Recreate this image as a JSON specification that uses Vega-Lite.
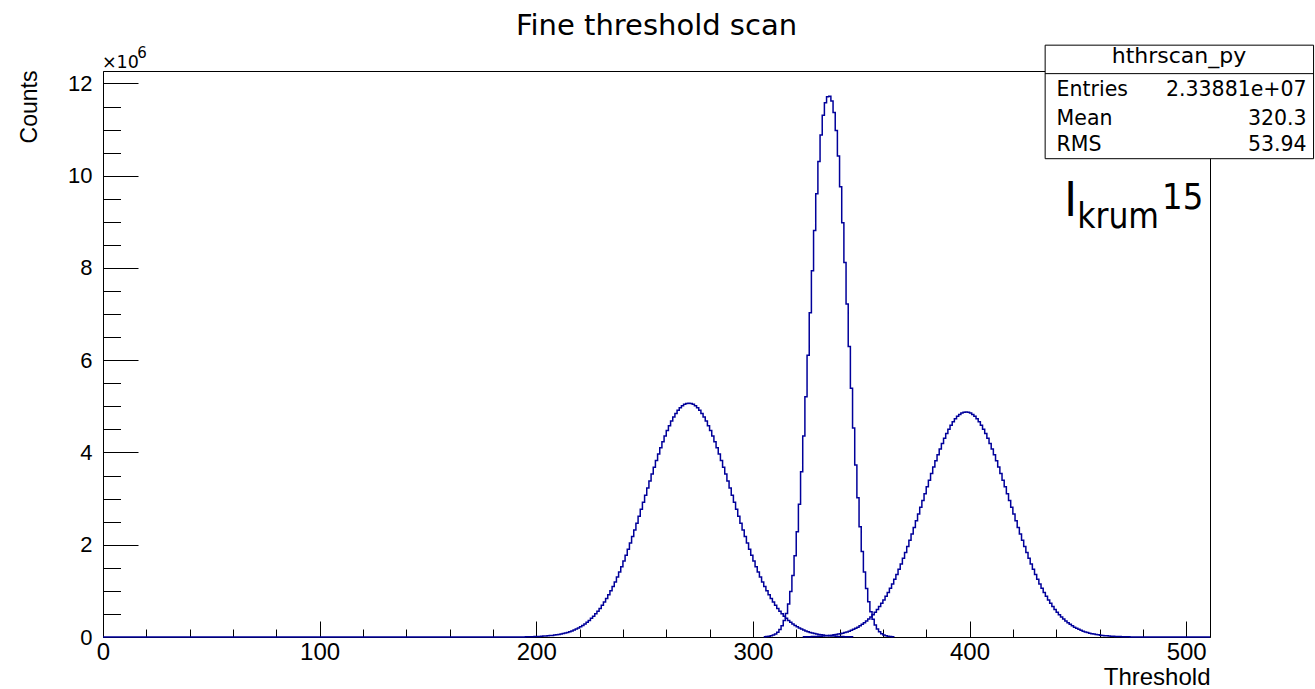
{
"$schema": "https://vega.github.io/schema/vega-lite/v6.json",
"width": 1107, "height": 566,
"autosize": "none",
"padding": {"left": 103, "top": 71, "right": 105, "bottom": 52},
"background": "#ffffff",
"config": {"view": {"stroke": "#000000", "strokeWidth": 1}},
"title": {"text": "Fine threshold scan", "font": "DejaVu Sans", "fontSize": 29, "fontWeight": "normal", "color": "#000000", "anchor": "middle", "baseline": "alphabetic", "offset": -19, "frame": "group"},
"datasets": {
"hist": [
{"s":"A","t":0,"c":0},
{"s":"A","t":195,"c":0.004e6},{"s":"A","t":196,"c":0.005e6},{"s":"A","t":197,"c":0.006e6},{"s":"A","t":198,"c":0.008e6},{"s":"A","t":199,"c":0.009e6},
{"s":"A","t":200,"c":0.011e6},{"s":"A","t":201,"c":0.013e6},{"s":"A","t":202,"c":0.016e6},{"s":"A","t":203,"c":0.019e6},{"s":"A","t":204,"c":0.022e6},
{"s":"A","t":205,"c":0.026e6},{"s":"A","t":206,"c":0.030e6},{"s":"A","t":207,"c":0.035e6},{"s":"A","t":208,"c":0.042e6},{"s":"A","t":209,"c":0.048e6},
{"s":"A","t":210,"c":0.056e6},{"s":"A","t":211,"c":0.065e6},{"s":"A","t":212,"c":0.076e6},{"s":"A","t":213,"c":0.087e6},{"s":"A","t":214,"c":0.100e6},
{"s":"A","t":215,"c":0.116e6},{"s":"A","t":216,"c":0.132e6},{"s":"A","t":217,"c":0.152e6},{"s":"A","t":218,"c":0.172e6},{"s":"A","t":219,"c":0.196e6},
{"s":"A","t":220,"c":0.223e6},{"s":"A","t":221,"c":0.252e6},{"s":"A","t":222,"c":0.284e6},{"s":"A","t":223,"c":0.320e6},{"s":"A","t":224,"c":0.360e6},
{"s":"A","t":225,"c":0.404e6},{"s":"A","t":226,"c":0.451e6},{"s":"A","t":227,"c":0.502e6},{"s":"A","t":228,"c":0.559e6},{"s":"A","t":229,"c":0.620e6},
{"s":"A","t":230,"c":0.686e6},{"s":"A","t":231,"c":0.757e6},{"s":"A","t":232,"c":0.834e6},{"s":"A","t":233,"c":0.916e6},{"s":"A","t":234,"c":1.003e6},
{"s":"A","t":235,"c":1.097e6},{"s":"A","t":236,"c":1.195e6},{"s":"A","t":237,"c":1.299e6},{"s":"A","t":238,"c":1.409e6},{"s":"A","t":239,"c":1.525e6},
{"s":"A","t":240,"c":1.646e6},{"s":"A","t":241,"c":1.772e6},{"s":"A","t":242,"c":1.903e6},{"s":"A","t":243,"c":2.038e6},{"s":"A","t":244,"c":2.178e6},
{"s":"A","t":245,"c":2.321e6},{"s":"A","t":246,"c":2.468e6},{"s":"A","t":247,"c":2.617e6},{"s":"A","t":248,"c":2.769e6},{"s":"A","t":249,"c":2.922e6},
{"s":"A","t":250,"c":3.075e6},{"s":"A","t":251,"c":3.229e6},{"s":"A","t":252,"c":3.382e6},{"s":"A","t":253,"c":3.533e6},{"s":"A","t":254,"c":3.681e6},
{"s":"A","t":255,"c":3.827e6},{"s":"A","t":256,"c":3.968e6},{"s":"A","t":257,"c":4.105e6},{"s":"A","t":258,"c":4.235e6},{"s":"A","t":259,"c":4.358e6},
{"s":"A","t":260,"c":4.474e6},{"s":"A","t":261,"c":4.582e6},{"s":"A","t":262,"c":4.680e6},{"s":"A","t":263,"c":4.769e6},{"s":"A","t":264,"c":4.847e6},
{"s":"A","t":265,"c":4.914e6},{"s":"A","t":266,"c":4.970e6},{"s":"A","t":267,"c":5.013e6},{"s":"A","t":268,"c":5.045e6},{"s":"A","t":269,"c":5.064e6},
{"s":"A","t":270,"c":5.070e6},
{"s":"A","t":271,"c":5.064e6},{"s":"A","t":272,"c":5.045e6},{"s":"A","t":273,"c":5.013e6},{"s":"A","t":274,"c":4.970e6},{"s":"A","t":275,"c":4.914e6},
{"s":"A","t":276,"c":4.847e6},{"s":"A","t":277,"c":4.769e6},{"s":"A","t":278,"c":4.680e6},{"s":"A","t":279,"c":4.582e6},{"s":"A","t":280,"c":4.474e6},
{"s":"A","t":281,"c":4.358e6},{"s":"A","t":282,"c":4.235e6},{"s":"A","t":283,"c":4.105e6},{"s":"A","t":284,"c":3.968e6},{"s":"A","t":285,"c":3.827e6},
{"s":"A","t":286,"c":3.681e6},{"s":"A","t":287,"c":3.533e6},{"s":"A","t":288,"c":3.382e6},{"s":"A","t":289,"c":3.229e6},{"s":"A","t":290,"c":3.075e6},
{"s":"A","t":291,"c":2.922e6},{"s":"A","t":292,"c":2.769e6},{"s":"A","t":293,"c":2.617e6},{"s":"A","t":294,"c":2.468e6},{"s":"A","t":295,"c":2.321e6},
{"s":"A","t":296,"c":2.178e6},{"s":"A","t":297,"c":2.038e6},{"s":"A","t":298,"c":1.903e6},{"s":"A","t":299,"c":1.772e6},{"s":"A","t":300,"c":1.646e6},
{"s":"A","t":301,"c":1.525e6},{"s":"A","t":302,"c":1.409e6},{"s":"A","t":303,"c":1.299e6},{"s":"A","t":304,"c":1.195e6},{"s":"A","t":305,"c":1.097e6},
{"s":"A","t":306,"c":1.003e6},{"s":"A","t":307,"c":0.916e6},{"s":"A","t":308,"c":0.834e6},{"s":"A","t":309,"c":0.757e6},{"s":"A","t":310,"c":0.686e6},
{"s":"A","t":311,"c":0.620e6},{"s":"A","t":312,"c":0.559e6},{"s":"A","t":313,"c":0.502e6},{"s":"A","t":314,"c":0.451e6},{"s":"A","t":315,"c":0.404e6},
{"s":"A","t":316,"c":0.360e6},{"s":"A","t":317,"c":0.320e6},{"s":"A","t":318,"c":0.284e6},{"s":"A","t":319,"c":0.252e6},{"s":"A","t":320,"c":0.223e6},
{"s":"A","t":321,"c":0.196e6},{"s":"A","t":322,"c":0.172e6},{"s":"A","t":323,"c":0.152e6},{"s":"A","t":324,"c":0.132e6},{"s":"A","t":325,"c":0.116e6},
{"s":"A","t":326,"c":0.100e6},{"s":"A","t":327,"c":0.087e6},{"s":"A","t":328,"c":0.076e6},{"s":"A","t":329,"c":0.065e6},{"s":"A","t":330,"c":0.056e6},
{"s":"A","t":331,"c":0.048e6},{"s":"A","t":332,"c":0.042e6},{"s":"A","t":333,"c":0.035e6},{"s":"A","t":334,"c":0.030e6},{"s":"A","t":335,"c":0.026e6},
{"s":"A","t":336,"c":0.022e6},{"s":"A","t":337,"c":0.019e6},{"s":"A","t":338,"c":0.016e6},{"s":"A","t":339,"c":0.013e6},{"s":"A","t":340,"c":0.011e6},
{"s":"A","t":341,"c":0.009e6},{"s":"A","t":342,"c":0.008e6},{"s":"A","t":343,"c":0.006e6},{"s":"A","t":344,"c":0.005e6},{"s":"A","t":345,"c":0.004e6},
{"s":"A","t":346,"c":0},
{"s":"B","t":305,"c":0.005e6},{"s":"B","t":306,"c":0.009e6},{"s":"B","t":307,"c":0.015e6},{"s":"B","t":308,"c":0.025e6},{"s":"B","t":309,"c":0.042e6},
{"s":"B","t":310,"c":0.067e6},{"s":"B","t":311,"c":0.105e6},{"s":"B","t":312,"c":0.161e6},{"s":"B","t":313,"c":0.242e6},{"s":"B","t":314,"c":0.356e6},
{"s":"B","t":315,"c":0.510e6},{"s":"B","t":316,"c":0.718e6},{"s":"B","t":317,"c":0.989e6},{"s":"B","t":318,"c":1.333e6},{"s":"B","t":319,"c":1.76e6},
{"s":"B","t":320,"c":2.28e6},{"s":"B","t":321,"c":2.88e6},{"s":"B","t":322,"c":3.58e6},{"s":"B","t":323,"c":4.36e6},{"s":"B","t":324,"c":5.21e6},
{"s":"B","t":325,"c":6.11e6},{"s":"B","t":326,"c":7.03e6},{"s":"B","t":327,"c":7.94e6},{"s":"B","t":328,"c":8.81e6},{"s":"B","t":329,"c":9.61e6},
{"s":"B","t":330,"c":10.31e6},{"s":"B","t":331,"c":10.88e6},{"s":"B","t":332,"c":11.31e6},{"s":"B","t":333,"c":11.58e6},{"s":"B","t":334,"c":11.71e6},
{"s":"B","t":335,"c":11.72e6},{"s":"B","t":336,"c":11.62e6},{"s":"B","t":337,"c":11.37e6},{"s":"B","t":338,"c":10.98e6},{"s":"B","t":339,"c":10.43e6},
{"s":"B","t":340,"c":9.76e6},{"s":"B","t":341,"c":8.98e6},{"s":"B","t":342,"c":8.12e6},{"s":"B","t":343,"c":7.22e6},{"s":"B","t":344,"c":6.30e6},
{"s":"B","t":345,"c":5.39e6},{"s":"B","t":346,"c":4.53e6},{"s":"B","t":347,"c":3.73e6},{"s":"B","t":348,"c":3.02e6},{"s":"B","t":349,"c":2.39e6},
{"s":"B","t":350,"c":1.856e6},{"s":"B","t":351,"c":1.411e6},{"s":"B","t":352,"c":1.051e6},{"s":"B","t":353,"c":0.766e6},{"s":"B","t":354,"c":0.547e6},
{"s":"B","t":355,"c":0.383e6},{"s":"B","t":356,"c":0.262e6},{"s":"B","t":357,"c":0.175e6},{"s":"B","t":358,"c":0.115e6},{"s":"B","t":359,"c":0.073e6},
{"s":"B","t":360,"c":0.046e6},{"s":"B","t":361,"c":0.028e6},{"s":"B","t":362,"c":0.017e6},{"s":"B","t":363,"c":0.010e6},{"s":"B","t":364,"c":0.005e6},
{"s":"B","t":365,"c":0},
{"s":"C","t":323,"c":0.004e6},{"s":"C","t":324,"c":0.005e6},{"s":"C","t":325,"c":0.006e6},{"s":"C","t":326,"c":0.008e6},{"s":"C","t":327,"c":0.009e6},
{"s":"C","t":328,"c":0.011e6},{"s":"C","t":329,"c":0.013e6},{"s":"C","t":330,"c":0.015e6},{"s":"C","t":331,"c":0.018e6},{"s":"C","t":332,"c":0.021e6},
{"s":"C","t":333,"c":0.025e6},{"s":"C","t":334,"c":0.029e6},{"s":"C","t":335,"c":0.034e6},{"s":"C","t":336,"c":0.040e6},{"s":"C","t":337,"c":0.047e6},
{"s":"C","t":338,"c":0.054e6},{"s":"C","t":339,"c":0.063e6},{"s":"C","t":340,"c":0.073e6},{"s":"C","t":341,"c":0.084e6},{"s":"C","t":342,"c":0.097e6},
{"s":"C","t":343,"c":0.111e6},{"s":"C","t":344,"c":0.127e6},{"s":"C","t":345,"c":0.146e6},{"s":"C","t":346,"c":0.166e6},{"s":"C","t":347,"c":0.189e6},
{"s":"C","t":348,"c":0.214e6},{"s":"C","t":349,"c":0.243e6},{"s":"C","t":350,"c":0.274e6},{"s":"C","t":351,"c":0.308e6},{"s":"C","t":352,"c":0.346e6},
{"s":"C","t":353,"c":0.388e6},{"s":"C","t":354,"c":0.434e6},{"s":"C","t":355,"c":0.484e6},{"s":"C","t":356,"c":0.538e6},{"s":"C","t":357,"c":0.597e6},
{"s":"C","t":358,"c":0.660e6},{"s":"C","t":359,"c":0.729e6},{"s":"C","t":360,"c":0.803e6},{"s":"C","t":361,"c":0.881e6},{"s":"C","t":362,"c":0.966e6},
{"s":"C","t":363,"c":1.056e6},{"s":"C","t":364,"c":1.150e6},{"s":"C","t":365,"c":1.251e6},{"s":"C","t":366,"c":1.357e6},{"s":"C","t":367,"c":1.468e6},
{"s":"C","t":368,"c":1.585e6},{"s":"C","t":369,"c":1.706e6},{"s":"C","t":370,"c":1.831e6},{"s":"C","t":371,"c":1.962e6},{"s":"C","t":372,"c":2.096e6},
{"s":"C","t":373,"c":2.234e6},{"s":"C","t":374,"c":2.376e6},{"s":"C","t":375,"c":2.519e6},{"s":"C","t":376,"c":2.665e6},{"s":"C","t":377,"c":2.812e6},
{"s":"C","t":378,"c":2.960e6},{"s":"C","t":379,"c":3.108e6},{"s":"C","t":380,"c":3.255e6},{"s":"C","t":381,"c":3.400e6},{"s":"C","t":382,"c":3.543e6},
{"s":"C","t":383,"c":3.683e6},{"s":"C","t":384,"c":3.820e6},{"s":"C","t":385,"c":3.951e6},{"s":"C","t":386,"c":4.076e6},{"s":"C","t":387,"c":4.195e6},
{"s":"C","t":388,"c":4.307e6},{"s":"C","t":389,"c":4.410e6},{"s":"C","t":390,"c":4.505e6},{"s":"C","t":391,"c":4.590e6},{"s":"C","t":392,"c":4.665e6},
{"s":"C","t":393,"c":4.730e6},{"s":"C","t":394,"c":4.783e6},{"s":"C","t":395,"c":4.825e6},{"s":"C","t":396,"c":4.856e6},{"s":"C","t":397,"c":4.874e6},
{"s":"C","t":398,"c":4.880e6},
{"s":"C","t":399,"c":4.874e6},{"s":"C","t":400,"c":4.856e6},{"s":"C","t":401,"c":4.825e6},{"s":"C","t":402,"c":4.783e6},{"s":"C","t":403,"c":4.730e6},
{"s":"C","t":404,"c":4.665e6},{"s":"C","t":405,"c":4.590e6},{"s":"C","t":406,"c":4.505e6},{"s":"C","t":407,"c":4.410e6},{"s":"C","t":408,"c":4.307e6},
{"s":"C","t":409,"c":4.195e6},{"s":"C","t":410,"c":4.076e6},{"s":"C","t":411,"c":3.951e6},{"s":"C","t":412,"c":3.820e6},{"s":"C","t":413,"c":3.683e6},
{"s":"C","t":414,"c":3.543e6},{"s":"C","t":415,"c":3.400e6},{"s":"C","t":416,"c":3.255e6},{"s":"C","t":417,"c":3.108e6},{"s":"C","t":418,"c":2.960e6},
{"s":"C","t":419,"c":2.812e6},{"s":"C","t":420,"c":2.665e6},{"s":"C","t":421,"c":2.519e6},{"s":"C","t":422,"c":2.376e6},{"s":"C","t":423,"c":2.234e6},
{"s":"C","t":424,"c":2.096e6},{"s":"C","t":425,"c":1.962e6},{"s":"C","t":426,"c":1.831e6},{"s":"C","t":427,"c":1.706e6},{"s":"C","t":428,"c":1.585e6},
{"s":"C","t":429,"c":1.468e6},{"s":"C","t":430,"c":1.357e6},{"s":"C","t":431,"c":1.251e6},{"s":"C","t":432,"c":1.150e6},{"s":"C","t":433,"c":1.056e6},
{"s":"C","t":434,"c":0.966e6},{"s":"C","t":435,"c":0.881e6},{"s":"C","t":436,"c":0.803e6},{"s":"C","t":437,"c":0.729e6},{"s":"C","t":438,"c":0.660e6},
{"s":"C","t":439,"c":0.597e6},{"s":"C","t":440,"c":0.538e6},{"s":"C","t":441,"c":0.484e6},{"s":"C","t":442,"c":0.434e6},{"s":"C","t":443,"c":0.388e6},
{"s":"C","t":444,"c":0.346e6},{"s":"C","t":445,"c":0.308e6},{"s":"C","t":446,"c":0.274e6},{"s":"C","t":447,"c":0.243e6},{"s":"C","t":448,"c":0.214e6},
{"s":"C","t":449,"c":0.189e6},{"s":"C","t":450,"c":0.166e6},{"s":"C","t":451,"c":0.146e6},{"s":"C","t":452,"c":0.127e6},{"s":"C","t":453,"c":0.111e6},
{"s":"C","t":454,"c":0.097e6},{"s":"C","t":455,"c":0.084e6},{"s":"C","t":456,"c":0.073e6},{"s":"C","t":457,"c":0.063e6},{"s":"C","t":458,"c":0.054e6},
{"s":"C","t":459,"c":0.047e6},{"s":"C","t":460,"c":0.040e6},{"s":"C","t":461,"c":0.034e6},{"s":"C","t":462,"c":0.029e6},{"s":"C","t":463,"c":0.025e6},
{"s":"C","t":464,"c":0.021e6},{"s":"C","t":465,"c":0.018e6},{"s":"C","t":466,"c":0.015e6},{"s":"C","t":467,"c":0.013e6},{"s":"C","t":468,"c":0.011e6},
{"s":"C","t":469,"c":0.009e6},{"s":"C","t":470,"c":0.008e6},{"s":"C","t":471,"c":0.006e6},{"s":"C","t":472,"c":0.005e6},{"s":"C","t":473,"c":0.004e6},
{"s":"C","t":474,"c":0},{"s":"C","t":511,"c":0}
],
"one": [{}]
},
"resolve": {"axis": {"x": "independent", "y": "independent"}},
"layer": [
{
"data": {"name": "hist"},
"mark": {"type": "line", "interpolate": "step-after", "color": "#00009a", "strokeWidth": 1.5},
"encoding": {
"x": {"field": "t", "type": "quantitative", "scale": {"domain": [0, 511], "nice": false, "zero": false},
 "axis": {"orient": "bottom", "values": [0, 100, 200, 300, 400, 500], "ticks": false, "grid": false, "domain": true, "domainColor": "#000000", "domainWidth": 1,
  "labelFont": "Liberation Sans", "labelFontSize": 24, "labelColor": "#000000", "labelBaseline": "alphabetic", "labelPadding": 22, "labelFlush": false, "labelOverlap": false,
  "title": "Threshold", "titleFont": "Liberation Sans", "titleFontSize": 24, "titleFontWeight": "normal", "titleColor": "#000000", "titleAnchor": "end", "titleAlign": "right", "titleBaseline": "alphabetic", "titleY": 47.5}},
"y": {"field": "c", "type": "quantitative", "scale": {"domain": [0, 12270000], "nice": false, "zero": false},
 "axis": {"orient": "left", "values": [0, 2000000, 4000000, 6000000, 8000000, 10000000, 12000000], "labelExpr": "datum.value / 1000000", "ticks": false, "grid": false, "domain": true, "domainColor": "#000000", "domainWidth": 1,
  "labelFont": "Liberation Sans", "labelFontSize": 22, "labelColor": "#000000", "labelBaseline": "middle", "labelPadding": 11, "labelFlush": false, "labelOverlap": false,
  "title": "Counts", "titleFont": "Liberation Sans", "titleFontSize": 23, "titleFontWeight": "normal", "titleColor": "#000000", "titleAngle": -90, "titleAlign": "right", "titleBaseline": "alphabetic", "titleX": -67, "titleY": -1}},
"detail": {"field": "s"}
}
},
{
"data": {"name": "one"},
"mark": {"type": "rect", "fill": "#ffffff", "stroke": "#000000", "strokeWidth": 1},
"encoding": {
"x": {"datum": 434.9, "type": "quantitative", "scale": {"domain": [0, 511], "nice": false, "zero": false},
 "axis": {"orient": "bottom", "values": [0, 100, 200, 300, 400, 500], "labels": false, "domain": false, "grid": false, "ticks": true, "tickSize": -16, "tickColor": "#000000", "tickWidth": 1, "title": null}},
"x2": {"datum": 558.8},
"y": {"datum": 12830000, "type": "quantitative", "scale": {"domain": [0, 12270000], "nice": false, "zero": false},
 "axis": {"orient": "left", "values": [0, 2000000, 4000000, 6000000, 8000000, 10000000, 12000000], "labels": false, "domain": false, "grid": false, "ticks": true, "tickSize": -35, "tickColor": "#000000", "tickWidth": 1, "title": null}},
"y2": {"datum": 10369000}
}
},
{
"data": {"name": "one"},
"mark": {"type": "rule", "color": "#000000", "strokeWidth": 1},
"encoding": {
"x": {"datum": 434.9, "type": "quantitative", "scale": {"domain": [0, 511], "nice": false, "zero": false},
 "axis": {"orient": "bottom", "values": [0,20,40,60,80,100,120,140,160,180,200,220,240,260,280,300,320,340,360,380,400,420,440,460,480,500], "labels": false, "domain": false, "grid": false, "ticks": true, "tickSize": -8, "tickColor": "#000000", "tickWidth": 1, "title": null}},
"x2": {"datum": 558.8},
"y": {"datum": 12213000, "type": "quantitative", "scale": {"domain": [0, 12270000], "nice": false, "zero": false},
 "axis": {"orient": "left", "values": [0,500000,1000000,1500000,2000000,2500000,3000000,3500000,4000000,4500000,5000000,5500000,6000000,6500000,7000000,7500000,8000000,8500000,9000000,9500000,10000000,10500000,11000000,11500000,12000000], "labels": false, "domain": false, "grid": false, "ticks": true, "tickSize": -17.5, "tickColor": "#000000", "tickWidth": 1, "title": null}}
}
},
{"data": {"name": "one"}, "mark": {"type": "text", "text": "hthrscan_py", "font": "DejaVu Sans", "fontSize": 22, "align": "center", "baseline": "alphabetic", "color": "#000000"},
 "encoding": {"x": {"datum": 496.7, "type": "quantitative", "scale": {"domain": [0, 511], "nice": false, "zero": false}, "axis": null}, "y": {"datum": 12450000, "type": "quantitative", "scale": {"domain": [0, 12270000], "nice": false, "zero": false}, "axis": null}}},
{"data": {"name": "one"}, "mark": {"type": "text", "text": "Entries", "font": "DejaVu Sans", "fontSize": 20.5, "align": "left", "baseline": "alphabetic", "color": "#000000"},
 "encoding": {"x": {"datum": 440.2, "type": "quantitative", "scale": {"domain": [0, 511], "nice": false, "zero": false}, "axis": null}, "y": {"datum": 11727000, "type": "quantitative", "scale": {"domain": [0, 12270000], "nice": false, "zero": false}, "axis": null}}},
{"data": {"name": "one"}, "mark": {"type": "text", "text": "Mean", "font": "DejaVu Sans", "fontSize": 20.5, "align": "left", "baseline": "alphabetic", "color": "#000000"},
 "encoding": {"x": {"datum": 440.2, "type": "quantitative", "scale": {"domain": [0, 511], "nice": false, "zero": false}, "axis": null}, "y": {"datum": 11091000, "type": "quantitative", "scale": {"domain": [0, 12270000], "nice": false, "zero": false}, "axis": null}}},
{"data": {"name": "one"}, "mark": {"type": "text", "text": "RMS", "font": "DejaVu Sans", "fontSize": 20.5, "align": "left", "baseline": "alphabetic", "color": "#000000"},
 "encoding": {"x": {"datum": 440.2, "type": "quantitative", "scale": {"domain": [0, 511], "nice": false, "zero": false}, "axis": null}, "y": {"datum": 10534000, "type": "quantitative", "scale": {"domain": [0, 12270000], "nice": false, "zero": false}, "axis": null}}},
{"data": {"name": "one"}, "mark": {"type": "text", "text": "2.33881e+07", "font": "DejaVu Sans", "fontSize": 20.5, "align": "right", "baseline": "alphabetic", "color": "#000000"},
 "encoding": {"x": {"datum": 555.6, "type": "quantitative", "scale": {"domain": [0, 511], "nice": false, "zero": false}, "axis": null}, "y": {"datum": 11727000, "type": "quantitative", "scale": {"domain": [0, 12270000], "nice": false, "zero": false}, "axis": null}}},
{"data": {"name": "one"}, "mark": {"type": "text", "text": "320.3", "font": "DejaVu Sans", "fontSize": 20.5, "align": "right", "baseline": "alphabetic", "color": "#000000"},
 "encoding": {"x": {"datum": 555.6, "type": "quantitative", "scale": {"domain": [0, 511], "nice": false, "zero": false}, "axis": null}, "y": {"datum": 11091000, "type": "quantitative", "scale": {"domain": [0, 12270000], "nice": false, "zero": false}, "axis": null}}},
{"data": {"name": "one"}, "mark": {"type": "text", "text": "53.94", "font": "DejaVu Sans", "fontSize": 20.5, "align": "right", "baseline": "alphabetic", "color": "#000000"},
 "encoding": {"x": {"datum": 555.6, "type": "quantitative", "scale": {"domain": [0, 511], "nice": false, "zero": false}, "axis": null}, "y": {"datum": 10534000, "type": "quantitative", "scale": {"domain": [0, 12270000], "nice": false, "zero": false}, "axis": null}}},
{"data": {"name": "one"}, "mark": {"type": "text", "text": "×10", "font": "DejaVu Sans", "fontSize": 17.5, "align": "left", "baseline": "alphabetic", "color": "#000000"},
 "encoding": {"x": {"datum": -0.5, "type": "quantitative", "scale": {"domain": [0, 511], "nice": false, "zero": false}, "axis": null}, "y": {"datum": 12340000, "type": "quantitative", "scale": {"domain": [0, 12270000], "nice": false, "zero": false}, "axis": null}}},
{"data": {"name": "one"}, "mark": {"type": "text", "text": "6", "font": "DejaVu Sans", "fontSize": 15, "align": "left", "baseline": "alphabetic", "color": "#000000"},
 "encoding": {"x": {"datum": 15.8, "type": "quantitative", "scale": {"domain": [0, 511], "nice": false, "zero": false}, "axis": null}, "y": {"datum": 12560000, "type": "quantitative", "scale": {"domain": [0, 12270000], "nice": false, "zero": false}, "axis": null}}},
{"data": {"name": "one"}, "mark": {"type": "text", "text": "I", "font": "DejaVu Sans Condensed", "fontSize": 48, "align": "left", "baseline": "alphabetic", "color": "#000000"},
 "encoding": {"x": {"datum": 443.7, "type": "quantitative", "scale": {"domain": [0, 511], "nice": false, "zero": false}, "axis": null}, "y": {"datum": 9120000, "type": "quantitative", "scale": {"domain": [0, 12270000], "nice": false, "zero": false}, "axis": null}}},
{"data": {"name": "one"}, "mark": {"type": "text", "text": "krum", "font": "DejaVu Sans Condensed", "fontSize": 35, "align": "left", "baseline": "alphabetic", "color": "#000000"},
 "encoding": {"x": {"datum": 449.7, "type": "quantitative", "scale": {"domain": [0, 511], "nice": false, "zero": false}, "axis": null}, "y": {"datum": 8870000, "type": "quantitative", "scale": {"domain": [0, 12270000], "nice": false, "zero": false}, "axis": null}}},
{"data": {"name": "one"}, "mark": {"type": "text", "text": "15", "font": "DejaVu Sans Condensed", "fontSize": 36, "align": "left", "baseline": "alphabetic", "color": "#000000"},
 "encoding": {"x": {"datum": 488.9, "type": "quantitative", "scale": {"domain": [0, 511], "nice": false, "zero": false}, "axis": null}, "y": {"datum": 9270000, "type": "quantitative", "scale": {"domain": [0, 12270000], "nice": false, "zero": false}, "axis": null}}}
]
}
